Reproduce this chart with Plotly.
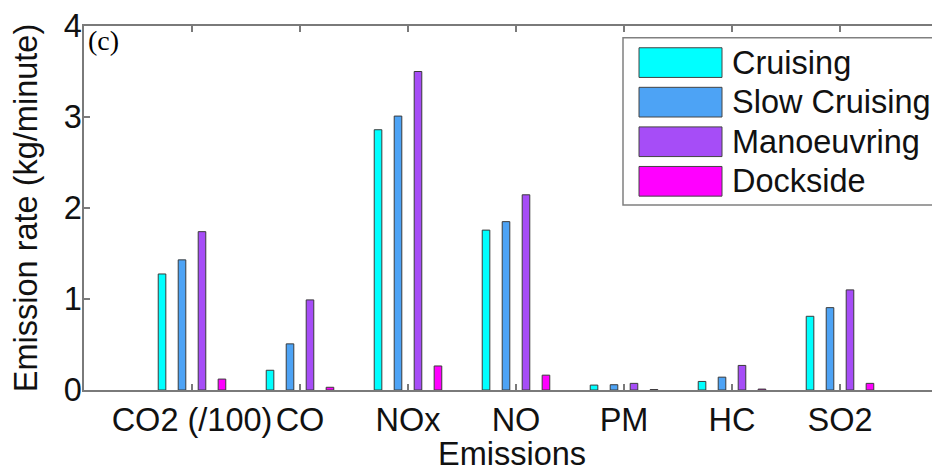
import plotly.graph_objects as go

categories = ["CO2 (/100)", "CO", "NOx", "NO", "PM", "HC", "SO2"]
series_names = ["Cruising", "Slow Cruising", "Manoeuvring", "Dockside"]
cruising = [1.275, 0.217, 2.86, 1.757, 0.054, 0.094, 0.81]
slow_cruising = [1.43, 0.507, 3.01, 1.85, 0.058, 0.141, 0.905]
manoeuvring = [1.74, 0.99, 3.50, 2.145, 0.073, 0.27, 1.10]
dockside = [0.12, 0.03, 0.264, 0.163, 0.005, 0.01, 0.073]
series_colors = ["#00FFFF", "#4DA3F5", "#A64DF7", "#FF00FF"]
y_ticks = [0, 1, 2, 3, 4]

# page body has an 8px default margin, so the figure is shifted by it
OFF = 8
W, H = 940 - OFF, 472 - OFF
ML, MT, MR = 84 - OFF, 22 - OFF, 0
MB = H - (390 - OFF)
PW, PH = W - ML - MR, H - MT - MB

x_pos = list(range(1, len(categories) + 1))
series_values = [cruising, slow_cruising, manoeuvring, dockside]

FONT = "Liberation Sans, Arial, sans-serif"
FS = 32.5
AX = "#7a7a7a"
TXT = "#111111"

fig = go.Figure()
for name, vals, col in zip(series_names, series_values, series_colors):
    fig.add_trace(go.Bar(
        x=x_pos, y=vals, name=name,
        marker=dict(color=col, line=dict(color="#3a3a3a", width=1)),
        showlegend=False,
    ))

# custom legend (wide swatches like the reference), built from the series lists
# coordinates given in page pixels
def px_x(p):
    return (p - OFF - ML) / PW

def px_y(p):
    return (MT + PH - (p - OFF)) / PH

shapes = [dict(type="rect", xref="paper", yref="paper",
               x0=px_x(623), x1=px_x(936), y0=px_y(203), y1=px_y(34),
               line=dict(color="#808080", width=1.5), fillcolor="white")]
annotations = []
for i, (name, col) in enumerate(zip(series_names, series_colors)):
    top = 44 + 40 * i
    shapes.append(dict(type="rect", xref="paper", yref="paper",
                       x0=px_x(639), x1=px_x(722), y0=px_y(top + 30), y1=px_y(top),
                       line=dict(color="#444444", width=1), fillcolor=col))
    annotations.append(dict(xref="paper", yref="paper", x=px_x(730), y=px_y(top + 15),
                            text=name, showarrow=False, xanchor="left", yanchor="middle",
                            font=dict(family=FONT, size=FS, color=TXT)))

annotations.append(dict(xref="paper", yref="paper", x=0, y=1, xanchor="left", yanchor="top",
                        xshift=2, yshift=3, text="(c)", showarrow=False,
                        font=dict(family="Liberation Serif, Times New Roman, serif", size=28, color="black")))

fig.update_layout(
    width=W, height=H,
    margin=dict(l=ML, r=MR, t=MT, b=MB, pad=0),
    paper_bgcolor="white", plot_bgcolor="white",
    barmode="group", bargap=0.26, bargroupgap=0.62,
    shapes=shapes, annotations=annotations,
    font=dict(family=FONT, size=FS, color=TXT),
    xaxis=dict(
        range=[0, PW / 108.0],
        tickmode="array", tickvals=x_pos, ticktext=categories,
        ticks="inside", ticklen=6, tickcolor=AX, tickwidth=1.5,
        showline=True, linecolor=AX, linewidth=1.5, mirror="ticks",
        showgrid=False, zeroline=False,
        tickfont=dict(family=FONT, size=FS, color=TXT),
        title=dict(text="Emissions", standoff=0, font=dict(family=FONT, size=FS, color=TXT)),
    ),
    yaxis=dict(
        range=[0, 4], tickvals=y_ticks,
        ticks="inside", ticklen=6, tickcolor=AX, tickwidth=1.5,
        ticklabelstandoff=-6, ticklabeloverflow="allow",
        showline=True, linecolor=AX, linewidth=1.5, mirror=False,
        showgrid=False, zeroline=False,
        tickfont=dict(family=FONT, size=FS, color=TXT),
        title=dict(text="Emission rate (kg/minute)", standoff=16, font=dict(family=FONT, size=FS, color=TXT)),
    ),
)

fig.write_html("out.html")
